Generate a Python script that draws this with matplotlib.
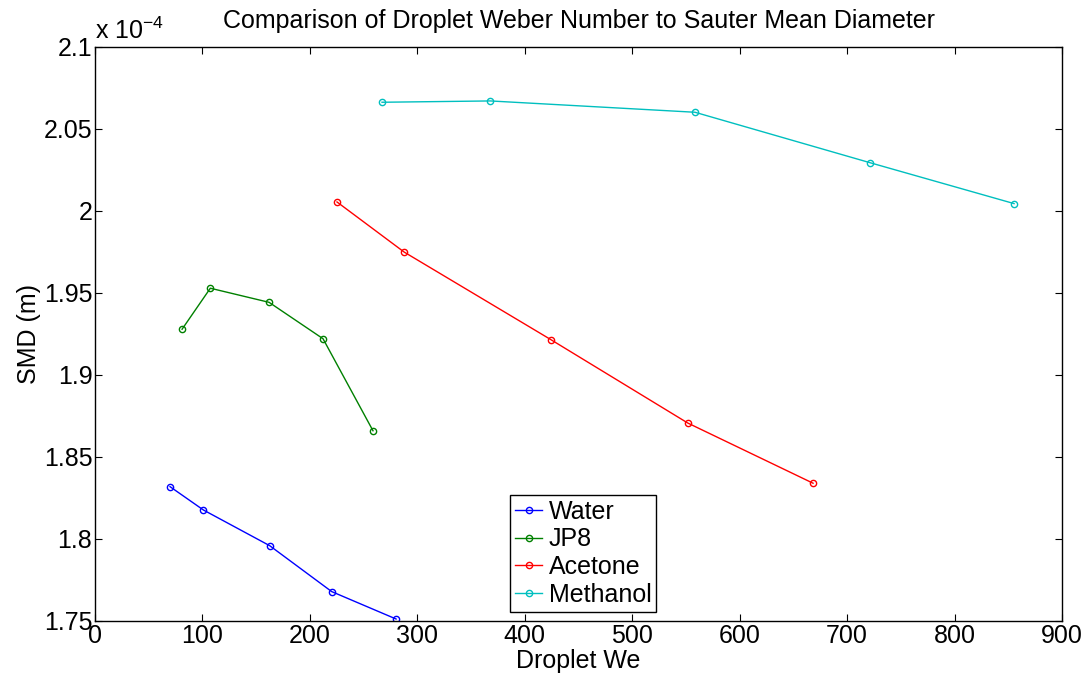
import matplotlib.pyplot as plt
from matplotlib.ticker import FormatStrFormatter

plt.rcParams['font.family'] = ['Liberation Sans', 'DejaVu Sans']

# Droplet Weber number and Sauter mean diameter (units of 1e-4 m)
water_we = [69.8, 100.8, 162.6, 220.3, 280.2]
water_smd = [1.8319, 1.8177, 1.7959, 1.7679, 1.7512]

jp8_we = [81.0, 107.3, 162.0, 212.2, 258.7]
jp8_smd = [1.9279, 1.9529, 1.9443, 1.9221, 1.8660]

acetone_we = [225.2, 287.6, 424.4, 551.7, 668.3]
acetone_smd = [2.0055, 1.9750, 1.9215, 1.8707, 1.8340]

methanol_we = [267.1, 367.9, 558.4, 721.0, 855.4]
methanol_smd = [2.0663, 2.0671, 2.0602, 2.0295, 2.0045]

labels = ['Water', 'JP8', 'Acetone', 'Methanol']
colors = ['#0000ff', '#008000', '#ff0000', '#00bfbf']

FS = 18

fig = plt.figure(figsize=(10.9, 6.78), dpi=100)
ax = fig.add_axes([0.0872, 0.0841, 0.8871, 0.8466])

series = [(water_we, water_smd), (jp8_we, jp8_smd),
          (acetone_we, acetone_smd), (methanol_we, methanol_smd)]
for (x, y), lab, c in zip(series, labels, colors):
    ax.plot(x, y, color=c, lw=1, marker='o', ms=4.5, mfc='none',
            mew=1, label=lab)

ax.set_xlim(0, 900)
ax.set_ylim(1.75, 2.1)
ax.set_xticks(range(0, 901, 100))
ax.set_yticks([1.75, 1.8, 1.85, 1.9, 1.95, 2.0, 2.05, 2.1])
ax.yaxis.set_major_formatter(FormatStrFormatter('%g'))
ax.tick_params(direction='in', length=5, width=0.8, top=True, right=True,
               labelsize=FS, pad=2)
for s in ax.spines.values():
    s.set_linewidth(1)

ax.set_title('Comparison of Droplet Weber Number to Sauter Mean Diameter',
             fontsize=FS, pad=14)
ax.set_xlabel('Droplet We', fontsize=FS, labelpad=1)
ax.set_ylabel('SMD (m)', fontsize=FS, labelpad=2)
ax.text(0.0, 1.006, r'x 10$^{\mathregular{-4}}$', transform=ax.transAxes,
        fontsize=FS, ha='left', va='bottom')

leg = ax.legend(loc='lower left', bbox_to_anchor=(0.429, 0.016),
                fontsize=FS, fancybox=False, edgecolor='black',
                framealpha=1, handlelength=1.1, handletextpad=0.25,
                labelspacing=0.15, borderpad=0.2, borderaxespad=0)
leg.get_frame().set_linewidth(1)

fig.savefig('out.png', dpi=100)
